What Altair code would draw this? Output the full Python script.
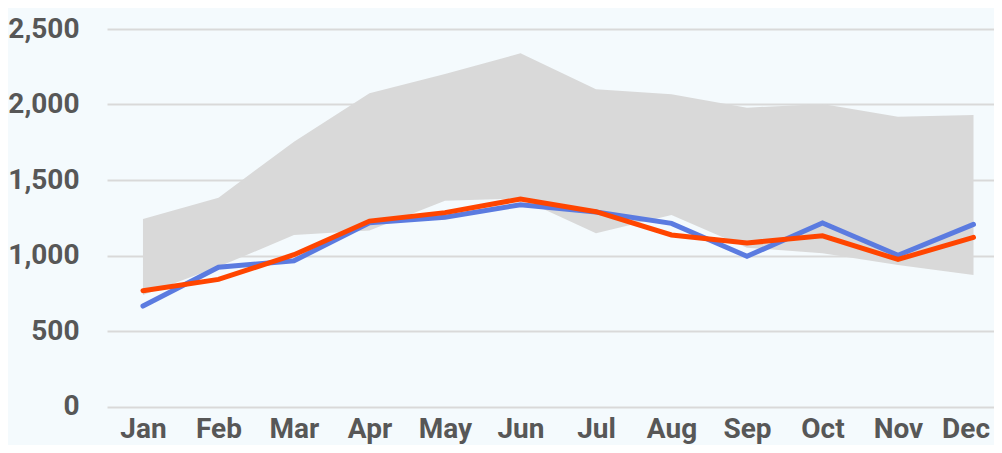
import altair as alt
import pandas as pd

months = ["Jan", "Feb", "Mar", "Apr", "May", "Jun", "Jul", "Aug", "Sep", "Oct", "Nov", "Dec"]
series_blue = [665, 922, 965, 1217, 1253, 1336, 1288, 1213, 995, 1215, 1002, 1206]
series_orange = [767, 842, 1005, 1228, 1284, 1374, 1290, 1136, 1083, 1130, 974, 1120]
range_upper = [1242, 1383, 1754, 2074, 2202, 2339, 2101, 2068, 1979, 2003, 1919, 1930]
range_lower = [738, 925, 1135, 1165, 1363, 1378, 1147, 1268, 1052, 1015, 937, 871]

df = pd.DataFrame({
    "month": months,
    "blue": series_blue,
    "orange": series_orange,
    "upper": range_upper,
    "lower": range_lower,
})

FONT = "Roboto"
TEXT = "#575757"

x = alt.X("month:N", sort=months,
          scale=alt.Scale(type="point", padding=0.374, align=0.637),
          axis=alt.Axis(title=None, labelAngle=0, domain=False, ticks=False, tickSize=0,
                        grid=False, labelPadding=9, labelFontSize=28,
                        labelFlush=25, labelFlushOffset=16,
                        labelFontWeight="bold", labelFont=FONT, labelColor=TEXT))

yscale = alt.Scale(domain=[0, 2500], nice=False, zero=True)
yaxis = alt.Axis(title=None, values=[0, 500, 1000, 1500, 2000, 2500], format=",.0f",
                 domain=False, ticks=False, tickSize=0, labelPadding=28,
                 labelFontSize=28, labelFontWeight="bold", labelFont=FONT,
                 labelColor=TEXT, grid=True, gridColor="#d9d9d9", gridWidth=2)

base = alt.Chart(df)

area = base.mark_area(color="#d9d9d9", opacity=1).encode(
    x=x,
    y=alt.Y("lower:Q", scale=yscale, axis=yaxis),
    y2="upper:Q",
)

line_blue = base.mark_line(color="#5b7be0", strokeWidth=5, strokeCap="round").encode(
    x=x, y=alt.Y("blue:Q", scale=yscale)
)
line_orange = base.mark_line(color="#ff4500", strokeWidth=5, strokeCap="round").encode(
    x=x, y=alt.Y("orange:Q", scale=yscale)
)

chart = alt.layer(area, line_blue, line_orange).properties(
    width=887, height=377.5,
    autosize=alt.AutoSizeParams(type="none"),
    padding={"left": 99, "top": 21, "right": 0, "bottom": 38},
    background="#f4fafd",
).configure_view(stroke=None, fill="#f4fafd")

chart.save("out.html", embed_options={"renderer": "svg", "actions": False})
